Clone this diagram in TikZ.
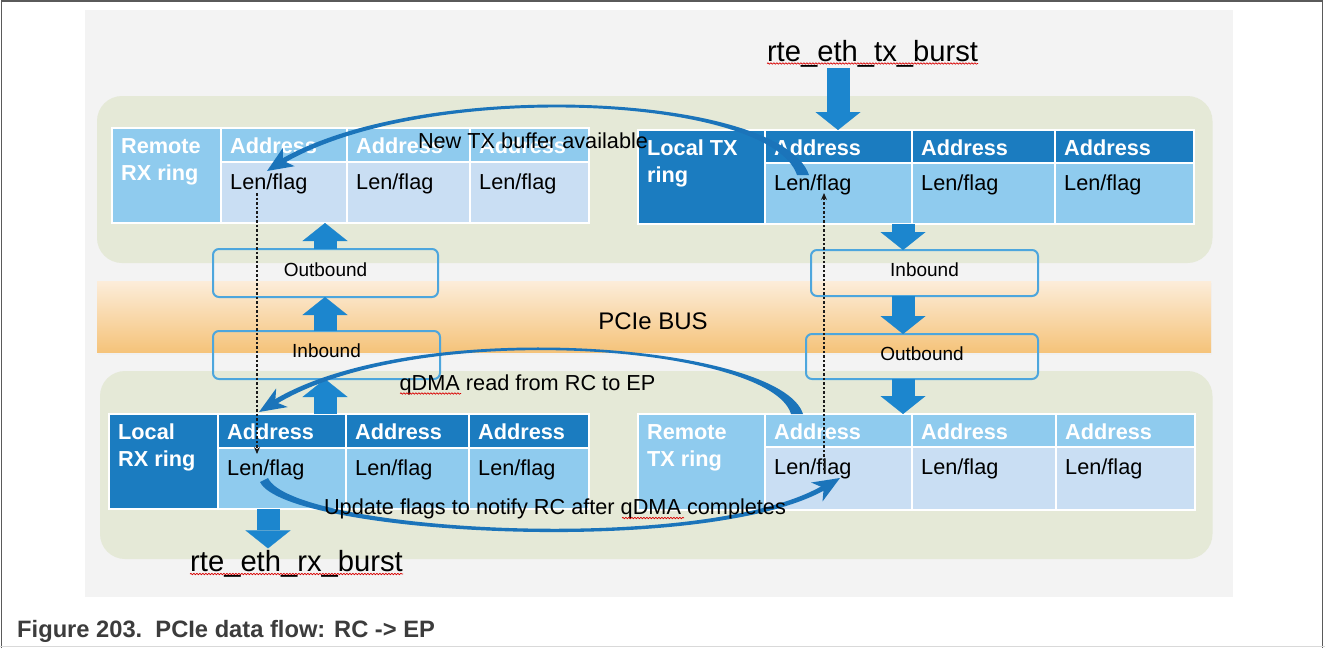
\documentclass[tikz,border=0pt]{standalone}
\usepackage{fontspec}
\setmainfont{Liberation Sans}
\usetikzlibrary{arrows.meta,decorations.pathmorphing,calc}
\definecolor{bggray}{RGB}{243,243,243}
\definecolor{panelgreen}{RGB}{229,233,215}
\definecolor{darkcell}{RGB}{27,124,192}
\definecolor{lightcell}{RGB}{143,203,238}
\definecolor{palecell}{RGB}{201,222,243}
\definecolor{boxblue}{RGB}{77,166,221}
\definecolor{arrowblue}{RGB}{28,134,206}
\definecolor{curveblue}{RGB}{27,116,186}
\definecolor{bandtop}{RGB}{252,237,218}
\definecolor{bandbot}{RGB}{245,195,122}
\definecolor{framegray}{RGB}{90,90,90}
\definecolor{captiongray}{RGB}{60,60,60}
\newcommand\myfs[1]{\fontsize{#1}{#1}\selectfont}
% one ring column: name x1 x2 ytop ymid ybot addrcolor lencolor
\newcommand\ringcol[8]{%
 \node[cellbox,fill=#7,minimum width={#3-#2},minimum height={#5-#4}] (#1a) at ({(#2+#3)/2},{(#4+#5)/2}) {};
 \node[cellbox,fill=#8,minimum width={#3-#2},minimum height={#6-#5}] (#1f) at ({(#2+#3)/2},{(#5+#6)/2}) {};
 \node[addrtxt] at ($(#1a.north west)+(9,25)$) {Address};
 \node[lentxt] at ($(#1f.north west)+(9,27)$) {Len/flag};}
% ring label cell: name x1 y1 x2 y2 color line1 line2
\newcommand\ringlab[8]{%
 \node[cellbox,fill=#6,minimum width={#4-#2},minimum height={#5-#3}] (#1) at ({(#2+#4)/2},{(#3+#5)/2}) {};
 \node[labtxt] at ($(#1.north west)+(9,25)$) {#7};
 \node[labtxt] at ($(#1.north west)+(9,52)$) {#8};}
\begin{document}
\begin{tikzpicture}[x=1pt,y=-1pt,
 cellbox/.style={draw=white,line width=2pt,inner sep=0pt,outer sep=0pt},
 addrtxt/.style={anchor=base west,inner sep=0pt,text=white,font=\myfs{21.7}\bfseries},
 lentxt/.style={anchor=base west,inner sep=0pt,text=black,font=\myfs{21.7}},
 labtxt/.style={anchor=base west,inner sep=0pt,text=white,font=\myfs{21.7}\bfseries},
 flowtxt/.style={anchor=base,inner sep=0pt,text=black,font=\myfs{21.7}},
 apitxt/.style={anchor=base,inner sep=0pt,outer sep=1.5pt,text=black,font=\myfs{29.2}},
 portbox/.style={draw=boxblue,line width=2pt,rounded corners=6pt,inner sep=0pt,outer sep=0pt},
 porttxt/.style={anchor=base,inner sep=0pt,text=black,font=\myfs{19}},
 barrow/.style={draw=arrowblue,line width=23pt,-{Triangle[length=18pt,width=45pt,line width=0.1pt]}},
 dotarrow/.style={draw=black!90,line width=1.2pt,dash pattern=on 2.5pt off 2pt,-{Stealth[length=7pt,width=6pt]}},
 spell/.style={draw=red!85!black,line width=0.7pt,decorate,decoration={snake,segment length=3pt,amplitude=0.7pt}},
 curvefill/.style={fill=curveblue}]
\useasboundingbox (0,0) rectangle (1325,648);
\fill[white] (0,0) rectangle (1325,648);
% background and panels
\fill[bggray] (84.5,10) rectangle (1233,597);
\fill[panelgreen,rounded corners=25pt] (97,96) rectangle (1212.5,263);
\fill[panelgreen,rounded corners=25pt] (100,371) rectangle (1212.5,559);
\fill[black!6] (98,283) rectangle (1212,355);
\shade[top color=bandtop,bottom color=bandbot] (97,281) rectangle (1211,352);
\node[anchor=base,inner sep=0pt,font=\myfs{24}] (bus) at (653,329.5) {PCIe BUS};
% rings
\ringlab{rrx}{112}{128}{221}{223}{lightcell}{Remote}{RX ring}
\ringcol{rrx1}{221}{347}{128}{162}{223}{lightcell}{palecell}
\ringcol{rrx2}{347}{470}{128}{162}{223}{lightcell}{palecell}
\ringcol{rrx3}{470}{589}{128}{162}{223}{lightcell}{palecell}
\ringlab{ltx}{638}{130}{765}{224}{darkcell}{Local TX}{ring}
\ringcol{ltx1}{765}{912}{130}{163}{224}{darkcell}{lightcell}
\ringcol{ltx2}{912}{1055}{130}{163}{224}{darkcell}{lightcell}
\ringcol{ltx3}{1055}{1194}{130}{163}{224}{darkcell}{lightcell}
\ringlab{lrx}{109}{414}{218}{509}{darkcell}{Local}{RX ring}
\ringcol{lrx1}{218}{346}{414}{448}{509}{darkcell}{lightcell}
\ringcol{lrx2}{346}{469}{414}{448}{509}{darkcell}{lightcell}
\ringcol{lrx3}{469}{589}{414}{448}{509}{darkcell}{lightcell}
\ringlab{rtx}{638}{414}{765}{510}{lightcell}{Remote}{TX ring}
\ringcol{rtx1}{765}{912}{414}{447}{510}{lightcell}{palecell}
\ringcol{rtx2}{912}{1056}{414}{447}{510}{lightcell}{palecell}
\ringcol{rtx3}{1056}{1195}{414}{447}{510}{lightcell}{palecell}
% windows
\node[portbox,minimum width=225,minimum height=48] (obU) at (325.5,273) {};
\node[porttxt] at ($(obU.north)+(0,27)$) {Outbound};
\node[portbox,minimum width=227,minimum height=46] (ibU) at (924.5,273) {};
\node[porttxt] at ($(ibU.north)+(0,26)$) {Inbound};
\node[portbox,minimum width=227,minimum height=48] (ibL) at (326.5,355) {};
\node[porttxt] at ($(ibL.north)+(0,26)$) {Inbound};
\node[portbox,minimum width=232,minimum height=45] (obL) at (922,356.5) {};
\node[porttxt] at ($(obL.north)+(0,26)$) {Outbound};
% API labels
\node[apitxt] (txlab) at (872.5,61) {rte\_eth\_tx\_burst};
\node[apitxt] (rxlab) at (296.5,571) {rte\_eth\_rx\_burst};
% block arrows
\coordinate (xl) at (325,0);
\coordinate (xr) at (903,0);
\coordinate (xtx) at (838,0);
\coordinate (xrx) at (268,0);
\draw[barrow] (obU.north -| xl) -- (rrx1f.south -| xl);
\draw[barrow] (ibL.north -| xl) -- (obU.south -| xl);
\draw[barrow] (lrx1a.north -| xl) -- (ibL.south -| xl);
\draw[barrow] (ltx1f.south -| xr) -- (ibU.north -| xr);
\draw[barrow] (ibU.south -| xr) -- (obL.north -| xr);
\draw[barrow] (obL.south -| xr) -- (rtx1a.north -| xr);
\draw[barrow] (txlab.south -| xtx) -- (ltx1a.north -| xtx);
\draw[barrow] (lrx1f.south -| xrx) -- (rxlab.north -| xrx);
% curved flow arrows (tapered)
\coordinate (c1s) at (803,175); \coordinate (c1e) at (267,171);
\fill[curvefill] (809,175) .. controls (780,92) and (420,76) .. (277.4,161.3) -- (280.1,165.5) .. controls (422,79) and (770,95) .. (797,175) -- cycle;
\fill[curvefill] (c1e) -- (294.7,166.2) -- (283,160.7) -- (282.9,147.8) -- cycle;
\coordinate (c2s) at (797,414); \coordinate (c2e) at (259,412);
\fill[curvefill] (803,414) .. controls (781,343) and (410,314) .. (269.6,402.5) -- (272.2,406.7) .. controls (412,317) and (771,345) .. (791,414) -- cycle;
\fill[curvefill] (c2e) -- (287.8,407.05) -- (275.2,401.9) -- (276.2,388.35) -- cycle;
\coordinate (c3s) at (264,480); \coordinate (c3e) at (840,478);
\fill[curvefill] (260,482) .. controls (286,535) and (713,559) .. (829.3,487.4) -- (826.7,483.1) .. controls (711,556) and (293,532) .. (268,478) -- cycle;
\fill[curvefill] (c3e) -- (822.5,501.5) -- (823.7,487.9) -- (811.1,482.5) -- cycle;
% flow texts
\node[flowtxt] (newtx) at (533,148.5) {New TX buffer available};
\node[flowtxt] (qread) at (527.5,390) {qDMA read from RC to EP};
\node[flowtxt] (upd) at (555,514) {Update flags to notify RC after qDMA completes};
% dotted arrows
\coordinate (d1s) at (257,193); \coordinate (d1e) at (257,454);
\coordinate (d2s) at (824,470); \coordinate (d2e) at (824,193);
\draw[dotarrow] (d1s) -- (d1e);
\draw[dotarrow] (d2s) -- (d2e);
% spelling marks
\draw[spell] (767,63.5) -- (978,63.5);
\draw[spell] (190,574) -- (403,574);
\draw[spell] (400,393.5) -- (461,393.5);
\draw[spell] (622,518) -- (684,518);
% frame and caption
\draw[framegray,line width=1.6pt] (1.5,648) -- (1.5,0.8) -- (1322.5,0.8) -- (1322.5,648);
\draw[black!15,line width=1.5pt] (0,646.5) -- (1325,646.5);
\node[anchor=base west,inner sep=0pt,text=captiongray,font=\myfs{23.7}\bfseries] (cap) at (17,637) {Figure 203.\hspace{0.556em}PCIe data flow: RC -> EP};
\end{tikzpicture}
\end{document}
